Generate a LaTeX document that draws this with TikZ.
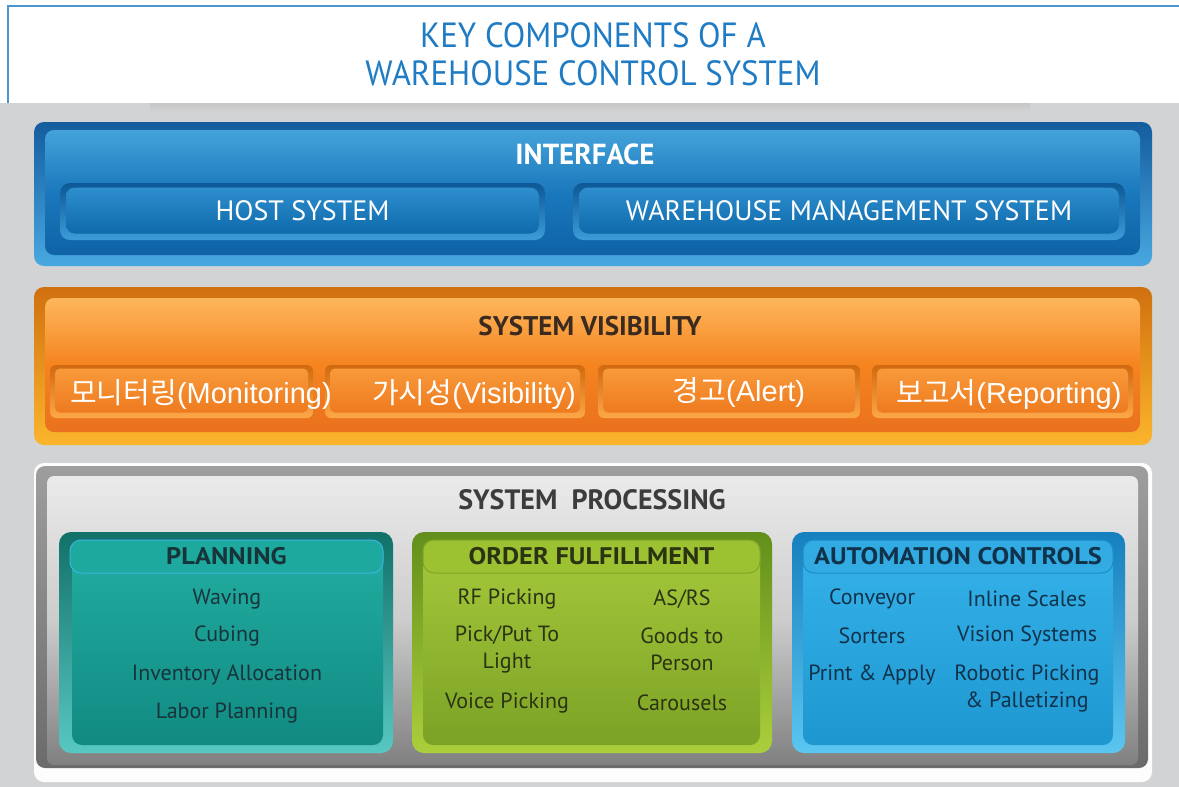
\documentclass[tikz,border=0pt]{standalone}
\usepackage{fontspec}
\setmainfont{PT Sans}
\newfontfamily\condfont[FakeStretch=0.94]{PT Sans}
\newfontfamily\widefont[FakeStretch=1.1]{PT Sans}
\newfontfamily\kofont{Noto Sans CJK KR}
\newfontfamily\latfont{Liberation Sans}
\usepackage{xcolor}
\definecolor{bgcol}{HTML}{D2D3D5}
\definecolor{titleblue}{HTML}{1F7CC4}
\definecolor{ifrimtop}{HTML}{145C9E}
\definecolor{ifrimbot}{HTML}{48A8E0}
\definecolor{iftop}{HTML}{44A2DA}
\definecolor{ifmid}{HTML}{1A78BC}
\definecolor{ifbot}{HTML}{0F63A6}
\definecolor{ifsubrimtop}{HTML}{0D5896}
\definecolor{ifsubrimbot}{HTML}{3C9CD8}
\definecolor{ifsubtop}{HTML}{2E8ECE}
\definecolor{ifsubbot}{HTML}{0E6AAB}
\definecolor{visrimtop}{HTML}{D0700F}
\definecolor{visrimbot}{HTML}{FBB52C}
\definecolor{vistop}{HTML}{FDB65C}
\definecolor{vismid}{HTML}{F5841F}
\definecolor{visbot}{HTML}{EA711E}
\definecolor{vissubrimtop}{HTML}{D0690F}
\definecolor{vissubrimbot}{HTML}{FCA848}
\definecolor{vissubtop}{HTML}{F89A3A}
\definecolor{vissubbot}{HTML}{EE7A1F}
\definecolor{vistext}{HTML}{3B2A1E}
\definecolor{proctext}{HTML}{3C3C3E}
\definecolor{tealrimtop}{HTML}{117169}
\definecolor{tealrimbot}{HTML}{58C8C2}
\definecolor{tealtop}{HTML}{22AEA2}
\definecolor{tealbot}{HTML}{118A82}
\definecolor{tealhead}{HTML}{1DA99D}
\definecolor{tealline}{HTML}{3DB3E0}
\definecolor{tealtext}{HTML}{17343A}
\definecolor{greenrimtop}{HTML}{628F1B}
\definecolor{greenrimbot}{HTML}{ABCF3B}
\definecolor{greentop}{HTML}{A6CA3B}
\definecolor{greenbot}{HTML}{7CA226}
\definecolor{greenhead}{HTML}{9CC232}
\definecolor{greenline}{HTML}{7FA52A}
\definecolor{greentext}{HTML}{2B3313}
\definecolor{bluerimtop}{HTML}{1580BE}
\definecolor{bluerimbot}{HTML}{5CC6F1}
\definecolor{bluetop}{HTML}{36B3EA}
\definecolor{bluebot}{HTML}{1E97D1}
\definecolor{bluehead}{HTML}{32ABE3}
\definecolor{blueline}{HTML}{1C8CC4}
\definecolor{bluetext}{HTML}{10324A}

\tikzset{
  boxnode/.style={rectangle, rounded corners=#1, inner sep=0pt, outer sep=0pt},
  boxnode/.default=8pt,
  sz/.style 2 args={minimum width=#1pt, minimum height=#2pt},
  itemtext/.style={font=\fontsize{22}{27}\selectfont, align=center, inner sep=0pt},
  headtext/.style={font=\widefont\bfseries\fontsize{24}{27}\selectfont, inner sep=0pt},
  kolabel/.style={text=white, inner sep=0pt, font=\fontsize{29}{32}\selectfont}
}

\begin{document}
\begin{tikzpicture}[x=1pt,y=-1pt]
  \useasboundingbox (0,0) rectangle (1179,787);

  % Background and title area
  \fill[bgcol] (0,0) rectangle (1179,787);
  \fill[white] (0,0) rectangle (1179,103);
  \shade[top color=black!22, bottom color=bgcol] (150,103) rectangle (1030,112);
  \draw[titleblue!80, line width=1.5pt] (8,103) -- (8,6) -- (1179,6);
  \node[font=\condfont\fontsize{35}{38}\selectfont, text=titleblue, align=center] (title) at (593,54)
    {KEY COMPONENTS OF A\\WAREHOUSE CONTROL SYSTEM};

  % Interface
  \node[boxnode=10pt, sz={1118}{144}, top color=ifrimtop, bottom color=ifrimbot] (ifrim) at (593,194) {};
  \node[boxnode=9pt, sz={1095}{125}, top color=iftop, bottom color=ifbot, middle color=ifmid] (ifpanel) at (592.5,192.5) {};
  \node[font=\bfseries\fontsize{29}{30}\selectfont, text=white] (iftitle) at (585,154) {INTERFACE};
  \node[boxnode=10pt, sz={485}{57}, top color=ifsubrimtop, bottom color=ifsubrimbot] (hostrim) at (302.5,211.5) {};
  \node[boxnode=9pt, sz={473}{46}, top color=ifsubtop, bottom color=ifsubbot,
    font=\fontsize{28}{30}\selectfont, text=white] (host) at (302.5,210.5) {HOST SYSTEM};
  \node[boxnode=10pt, sz={552}{57}, top color=ifsubrimtop, bottom color=ifsubrimbot] (wmsrim) at (849,211.5) {};
  \node[boxnode=9pt, sz={540}{46}, top color=ifsubtop, bottom color=ifsubbot,
    font=\fontsize{28}{30}\selectfont, text=white] (wms) at (849,210.5) {WAREHOUSE MANAGEMENT SYSTEM};

  % System visibility
  \node[boxnode=10pt, sz={1118}{158}, top color=visrimtop, bottom color=visrimbot] (visrim) at (593,366) {};
  \node[boxnode=9pt, sz={1095}{134}, top color=vistop, bottom color=visbot, middle color=vismid] (vispanel) at (592.5,365) {};
  \node[font=\bfseries\fontsize{27}{30}\selectfont, text=vistext] (vistitle) at (590,326) {SYSTEM VISIBILITY};
  \foreach \cx/\w/\nm in {181.5/263/mon, 455/260/visi, 729/262/alert, 1002.5/261/rep}{
    \node[boxnode=6pt, sz={\w}{53}, top color=vissubrimtop, bottom color=vissubrimbot] (\nm rim) at (\cx,391.5) {};
    \node[boxnode=5pt, sz={\w-10}{44}, top color=vissubtop, bottom color=vissubbot] (\nm) at (\cx,390.5) {};
  }
  \node[kolabel] (monlabel) at (201,395) {{\kofont 모니터링}{\latfont(Monitoring)}};
  \node[kolabel] (visilabel) at (474,395) {{\kofont 가시성}{\latfont(Visibility)}};
  \node[kolabel] (alertlabel) at (739,393) {{\kofont 경고}{\latfont(Alert)}};
  \node[kolabel] (replabel) at (1009,395) {{\kofont 보고서}{\latfont(Reporting)}};

  % System processing
  \node[boxnode=10pt, sz={1118}{319}, fill=white!95!bgcol] (procrim) at (593,622.5) {};
  \node[boxnode=9pt, sz={1112}{302}, top color=black!38, bottom color=black!58] (procframe) at (592,617) {};
  \node[boxnode=7pt, sz={1091}{289}, top color=white!92!black, bottom color=black!50, middle color=black!20] (procpanel) at (592.5,620.5) {};
  \node[font=\bfseries\fontsize{28}{30}\selectfont, text=proctext] (proctitle) at (592,500) {SYSTEM\ \ PROCESSING};

  % Planning
  \node[boxnode=12pt, sz={334}{221}, top color=tealrimtop, bottom color=tealrimbot] (planrim) at (226,642.5) {};
  \node[boxnode=10pt, sz={311}{205}, top color=tealtop, bottom color=tealbot] (plan) at (227.5,642.5) {};
  \node[boxnode=11pt, sz={313}{33}, fill=tealhead, draw=tealline, line width=1pt] (planhead) at (226.5,556.5) {};
  \node[headtext, text=tealtext] (planheadtext) at (planhead) {PLANNING};
  \node[itemtext, text=tealtext] (waving) at (227,599) {Waving};
  \node[itemtext, text=tealtext] (cubing) at (227,636) {Cubing};
  \node[itemtext, text=tealtext] (invalloc) at (227,675) {Inventory Allocation};
  \node[itemtext, text=tealtext] (laborplan) at (227,713) {Labor Planning};

  % Order fulfillment
  \node[boxnode=12pt, sz={360}{221}, top color=greenrimtop, bottom color=greenrimbot] (ordrim) at (592,642.5) {};
  \node[boxnode=10pt, sz={337}{205}, top color=greentop, bottom color=greenbot] (ord) at (591.5,642.5) {};
  \node[boxnode=11pt, sz={337}{33}, fill=greenhead, draw=greenline, line width=1pt] (ordhead) at (591.5,556.5) {};
  \node[headtext, text=greentext] (ordheadtext) at (ordhead) {ORDER FULFILLMENT};
  \node[itemtext, text=greentext] (rfpick) at (507,599) {RF Picking};
  \node[itemtext, text=greentext] (asrs) at (682,599) {AS/RS};
  \node[itemtext, text=greentext] (ptl) at (507,649.5) {Pick/Put To\\Light};
  \node[itemtext, text=greentext] (gtp) at (682,649.5) {Goods to\\Person};
  \node[itemtext, text=greentext] (voice) at (507,703) {Voice Picking};
  \node[itemtext, text=greentext] (carousel) at (682,703) {Carousels};

  % Automation controls
  \node[boxnode=12pt, sz={333}{221}, top color=bluerimtop, bottom color=bluerimbot] (autorim) at (958.5,642.5) {};
  \node[boxnode=10pt, sz={310}{205}, top color=bluetop, bottom color=bluebot] (auto) at (958,642.5) {};
  \node[boxnode=11pt, sz={310}{33}, fill=bluehead, draw=blueline, line width=1pt] (autohead) at (958,556.5) {};
  \node[headtext, text=bluetext] (autoheadtext) at (autohead) {AUTOMATION CONTROLS};
  \node[itemtext, text=bluetext] (conveyor) at (872,599) {Conveyor};
  \node[itemtext, text=bluetext] (scales) at (1027,599) {Inline Scales};
  \node[itemtext, text=bluetext] (sorters) at (872,636) {Sorters};
  \node[itemtext, text=bluetext] (vision) at (1027,636) {Vision Systems};
  \node[itemtext, text=bluetext] (printapply) at (872,675) {Print \& Apply};
  \node[itemtext, text=bluetext] (robotic) at (1027,688.5) {Robotic Picking\\\& Palletizing};
\end{tikzpicture}
\end{document}
